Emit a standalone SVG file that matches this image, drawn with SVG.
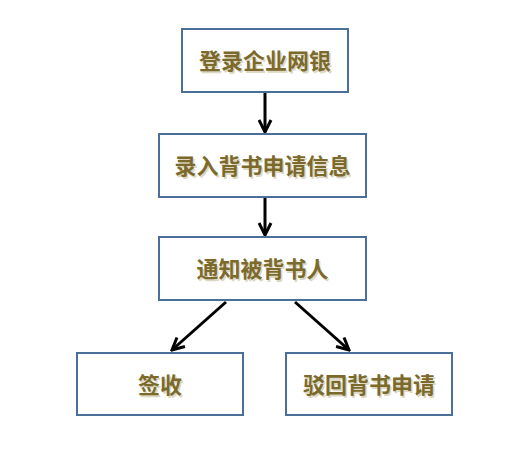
<svg xmlns="http://www.w3.org/2000/svg" width="525" height="453" viewBox="0 0 525 453">
<style>
.box{fill:#fff;stroke:#4a6f98;stroke-width:2}
.t{font-family:"Noto Sans CJK SC","Liberation Sans",sans-serif;font-size:22px;font-weight:bold;fill:#7b6a2c;text-anchor:middle;dominant-baseline:central}
.sh{fill:#ddd8c4}
.c{stroke:#000;stroke-width:3;fill:none;marker-end:url(#ah)}
</style>
<defs>
<marker id="ah" viewBox="0 0 10 10" refX="9" refY="5" markerWidth="5" markerHeight="5" orient="auto" markerUnits="strokeWidth">
<path d="M1,1 L9,5 L1,9" fill="none" stroke="#000" stroke-width="2"/>
</marker>
</defs>
<rect width="525" height="453" fill="#fff"/>
<g id="connectors">
<line class="c" x1="265" y1="93" x2="265" y2="132"/>
<line class="c" x1="265" y1="198" x2="265" y2="235"/>
<line class="c" x1="226" y1="302" x2="172" y2="350"/>
<line class="c" x1="295" y1="302" x2="349" y2="350"/>
</g>
<g id="n1"><rect class="box" x="182" y="29" width="166" height="63"/><text class="t sh" x="266.5" y="60.5">登录企业网银</text><text class="t" x="265" y="59">登录企业网银</text></g>
<g id="n2"><rect class="box" x="159" y="134" width="207" height="63"/><text class="t sh" x="264" y="165.5">录入背书申请信息</text><text class="t" x="262.5" y="164">录入背书申请信息</text></g>
<g id="n3"><rect class="box" x="159" y="237" width="207" height="63"/><text class="t sh" x="264" y="268.5">通知被背书人</text><text class="t" x="262.5" y="267">通知被背书人</text></g>
<g id="n4"><rect class="box" x="77" y="353" width="166" height="62"/><text class="t sh" x="161.5" y="384.5">签收</text><text class="t" x="160" y="383">签收</text></g>
<g id="n5"><rect class="box" x="286" y="353" width="166" height="62"/><text class="t sh" x="370.5" y="384.5">驳回背书申请</text><text class="t" x="369" y="383">驳回背书申请</text></g>
</svg>
